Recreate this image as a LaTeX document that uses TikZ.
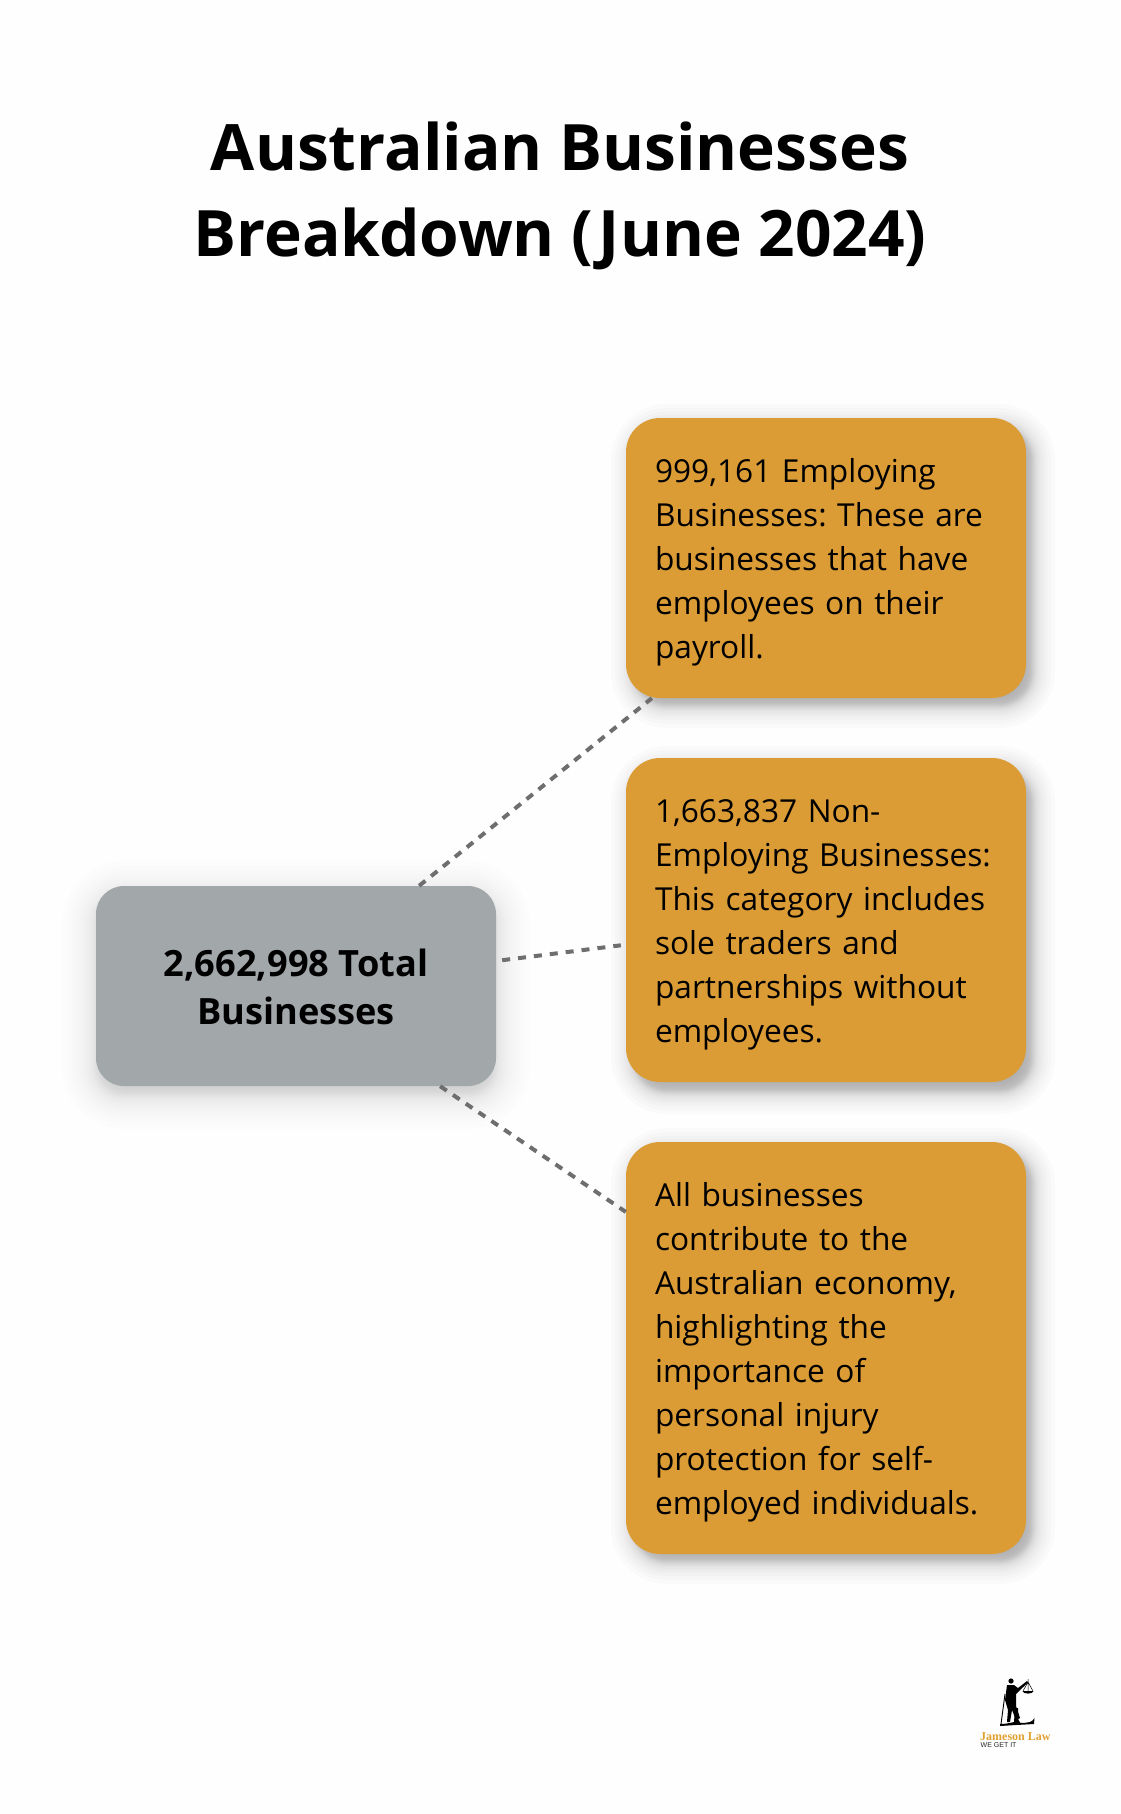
\documentclass[tikz,border=0pt]{standalone}
\usepackage{fontspec}
\setmainfont{Open Sans}
\newfontfamily\logoserif{Liberation Serif}
\newfontfamily\logosans{Liberation Sans}
\usetikzlibrary{calc}
\definecolor{boxorange}{HTML}{DB9C36}
\definecolor{boxgrey}{HTML}{A2A7AA}
\definecolor{linkgrey}{HTML}{6E6E6E}
\definecolor{logogold}{HTML}{E0A030}
\newcommand{\firststrut}{\rule{0pt}{38.8pt}}
\newcommand{\softshadow}[8]{% cx cy w h radius spread steps opacity
  \foreach \ii in {1,...,#7}{
    \pgfmathsetmacro{\tt}{1-2*(\ii-1)/(#7-1)}
    \pgfmathsetmacro{\ee}{#6*(0.35*\tt+0.65*\tt*\tt*\tt)}
    \pgfmathsetmacro{\rr}{max(#5+\ee,2)}
    \fill[black,opacity=#8,rounded corners=\rr pt]
      ({#1-#3/2-\ee},{#2-#4/2-\ee}) rectangle ({#1+#3/2+\ee},{#2+#4/2+\ee});
  }}
\tikzset{
  x=1pt,y=1pt,
  orangebox/.style={fill=boxorange,rounded corners=34pt,minimum width=400pt,text width=342pt,inner xsep=29pt,inner ysep=0pt,align=left,font=\fontsize{31.65}{44}\selectfont\frenchspacing,text=black},
  greybox/.style={fill=boxgrey,rounded corners=28pt,minimum width=400pt,minimum height=200pt,align=center,inner sep=0pt,font=\fontsize{36.2}{48.5}\selectfont\bfseries,text=black},
  titletext/.style={align=center,inner sep=0pt,font=\fontsize{64}{86}\selectfont\bfseries,text=black},
  link/.style={draw=linkgrey,line width=4pt},
}
\begin{document}
\begin{tikzpicture}
\useasboundingbox (0,-1814) rectangle (1120,0);
\fill[white!99.5!black] (0,-1814) rectangle (1120,0);
% shadows
\softshadow{296}{-995}{400}{200}{28}{34}{30}{0.006}
\softshadow{833}{-566}{400}{280}{34}{22}{24}{0.016}
\softshadow{833}{-930}{400}{324}{34}{22}{24}{0.016}
\softshadow{833}{-1356}{400}{412}{34}{22}{24}{0.016}
% title
\node[titletext] (title) at (560,-196) {Australian Businesses\\Breakdown (June 2024)};
% boxes
\node[greybox] (total) at (296,-986) {\rule{0pt}{29.5pt}2,662,998 Total\\Businesses};
\node[orangebox,minimum height=280pt] (emp) at (826,-558) {\firststrut 999,161 Employing\\Businesses: These are\\businesses that have\\employees on their\\payroll.\strut};
\node[orangebox,minimum height=324pt] (non) at (826,-920) {\firststrut 1,663,837 Non-\\Employing Businesses:\\This category includes\\sole traders and\\partnerships without\\employees.\strut};
\node[orangebox,minimum height=412pt] (all) at (826,-1348) {\firststrut All businesses\\contribute to the\\Australian economy,\\highlighting the\\importance of\\personal injury\\protection for self-\\employed individuals.\strut};
% connectors
\coordinate (a1) at ($(total.north west)!0.8075!(total.north east)$);
\coordinate (b1) at ($(emp.south west)!0.065!(emp.south east)$);
\coordinate (a2) at ($(total.south east)!0.625!(total.north east)$);
\coordinate (b2) at ($(non.south west)!0.424!(non.north west)$);
\coordinate (a3) at ($(total.south west)!0.86!(total.south east)$);
\coordinate (b3) at ($(all.south west)!0.83!(all.north west)$);
\draw[link,dash pattern=on 8pt off 7.34pt] (a1) -- (b1);
\draw[link,dash pattern=on 8pt off 8pt,shorten <=6pt,shorten >=5pt] (a2) -- (b2);
\draw[link,dash pattern=on 8pt off 7.48pt] (a3) -- (b3);
% logo
\begin{scope}[shift={(960,-1660)},y=-1pt]
  % L letterform
  \fill[black] (55,48) -- (58,48) -- (58.5,60) .. controls (59,63) and (61,63.5) .. (64,63) -- (70,62) .. controls (72,61.5) and (73,60) .. (74.5,58) -- (74,64) -- (56,65) -- (40,66) -- (40,64) .. controls (45,64) and (50,63) .. (54,62) -- cycle;
  % figure
  \fill[black] (51,21) circle (2.6pt);
  \fill[black] (47,25) -- (54,25) -- (58,28) -- (67,21) -- (68,22.5) -- (59,31) -- (56,34) -- (56,46) -- (60,58) -- (56,60) -- (52,50) -- (50,62) -- (47,62) -- (48,50) -- (45,40) -- cycle;
  \draw[black,line width=0.9pt] (45,34) -- (41,64);
  \draw[black,line width=0.5pt] (68,19) -- (68,32) (63,31) -- (68,22) -- (73,31);
  \fill[black] (62.5,31) arc (180:360:5.5pt and 2.6pt) -- cycle;
  \node[anchor=west,inner sep=0pt,text=logogold,font=\logoserif\bfseries\fontsize{12}{12}\selectfont] (logoname) at (20,77) {Jameson Law};
  \node[anchor=west,inner sep=0pt,text=black!85,font=\logosans\fontsize{7}{7}\selectfont] (logotag) at (20.5,85.5) {WE GET IT};
\end{scope}
\end{tikzpicture}
\end{document}
